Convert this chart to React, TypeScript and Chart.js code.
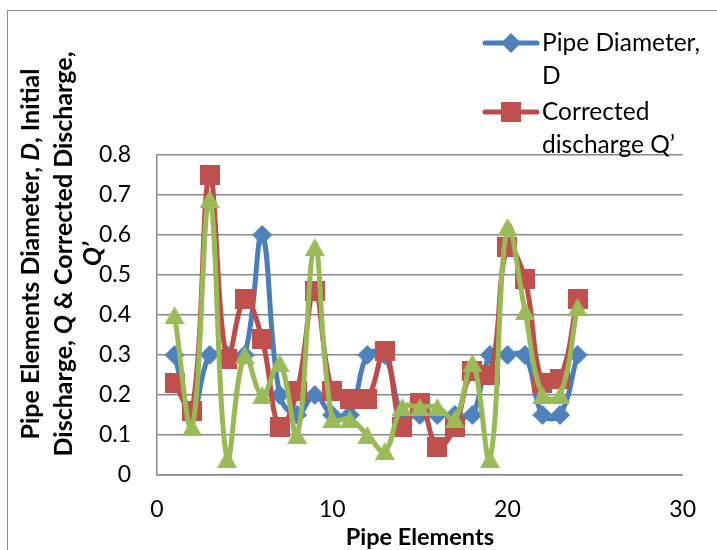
import React, { useEffect, useRef } from "react";
import { Chart, registerables } from "chart.js";

Chart.register(...registerables);

// Pipe element numbers along the x axis
const elements = [1, 2, 3, 4, 5, 6, 7, 8, 9, 10, 11, 12, 13, 14, 15, 16, 17, 18, 19, 20, 21, 22, 23, 24];

// Pipe diameter D per element
const pipeDiameter = [0.3, 0.15, 0.3, 0.3, 0.3, 0.6, 0.2, 0.15, 0.2, 0.15, 0.15, 0.3, 0.3, 0.15, 0.15, 0.15, 0.15, 0.15, 0.3, 0.3, 0.3, 0.15, 0.15, 0.3];

// Corrected discharge Q'
const correctedDischarge = [0.23, 0.16, 0.75, 0.29, 0.44, 0.34, 0.12, 0.21, 0.46, 0.21, 0.19, 0.19, 0.31, 0.12, 0.18, 0.07, 0.12, 0.26, 0.25, 0.57, 0.49, 0.23, 0.24, 0.44];

// Initial discharge Q
const initialDischarge = [0.4, 0.12, 0.69, 0.04, 0.3, 0.2, 0.28, 0.1, 0.57, 0.14, 0.14, 0.1, 0.06, 0.17, 0.17, 0.17, 0.14, 0.28, 0.04, 0.62, 0.41, 0.2, 0.2, 0.42];

const xTicks = [0, 10, 20, 30];
const yTicks = [0, 0.1, 0.2, 0.3, 0.4, 0.5, 0.6, 0.7, 0.8];

const seriesNames = ["Pipe Diameter, D", "Corrected discharge Q’", "Initial Discharge, Q"];
const legendLines = [
  ["Pipe Diameter,", "D"],
  ["Corrected", "discharge Q’"],
];

const yTitleLines = [
  [
    { text: "Pipe Elements Diameter, ", italic: false },
    { text: "D", italic: true },
    { text: ", Initial", italic: false },
  ],
  [
    { text: "Discharge, ", italic: false },
    { text: "Q", italic: true },
    { text: " & Corrected Discharge,", italic: false },
  ],
  [{ text: "Q’", italic: true }],
];

const xTitle = "Pipe Elements";

const BLUE_LINE = "#4A7EBB";
const BLUE_FILL = "#4F81BD";
const RED_LINE = "#BE4B48";
const RED_FILL = "#C0504D";
const GREEN_LINE = "#98B954";
const GREEN_FILL = "#9BBB59";
const GRID = "#888888";
const FONT = "Lato, 'Liberation Sans', sans-serif";

type MarkerKind = "diamond" | "square" | "triangle";

function makeMarker(kind: MarkerKind, color: string): HTMLCanvasElement {
  const c = document.createElement("canvas");
  const ctx = c.getContext("2d")!;
  if (kind === "diamond") {
    c.width = 20;
    c.height = 20;
    ctx.fillStyle = color;
    ctx.beginPath();
    ctx.moveTo(10, 0);
    ctx.lineTo(20, 10);
    ctx.lineTo(10, 20);
    ctx.lineTo(0, 10);
    ctx.closePath();
    ctx.fill();
  } else if (kind === "square") {
    c.width = 20;
    c.height = 20;
    ctx.fillStyle = color;
    ctx.fillRect(0, 0, 20, 20);
  } else {
    c.width = 20;
    c.height = 18;
    ctx.fillStyle = color;
    ctx.beginPath();
    ctx.moveTo(10, 0);
    ctx.lineTo(20, 18);
    ctx.lineTo(0, 18);
    ctx.closePath();
    ctx.fill();
  }
  return c;
}

export default function App() {
  const canvasRef = useRef<HTMLCanvasElement | null>(null);

  useEffect(() => {
    const canvas = canvasRef.current;
    if (!canvas) return;

    const blueMarker = makeMarker("diamond", BLUE_FILL);
    const redMarker = makeMarker("square", RED_FILL);
    const greenMarker = makeMarker("triangle", GREEN_FILL);

    const toPoints = (vals: number[]) => elements.map((x, i) => ({ x, y: vals[i] }));

    // Outer frame of the chart object
    const framePlugin = {
      id: "frame",
      beforeDraw(chart: any) {
        const ctx = chart.ctx;
        ctx.save();
        ctx.fillStyle = "#ffffff";
        ctx.fillRect(0, 0, chart.width, chart.height);
        ctx.strokeStyle = "#8c8c8c";
        ctx.lineWidth = 1;
        ctx.strokeRect(7.5, 10.5, chart.width + 20, chart.height + 20);
        ctx.restore();
      },
    };

    // Rotated y-axis title with italic symbols
    const yTitlePlugin = {
      id: "yTitle",
      afterDraw(chart: any) {
        const ctx = chart.ctx;
        const centersX = [31, 64, 93];
        const centerY = 254;
        ctx.save();
        ctx.fillStyle = "#000000";
        ctx.textBaseline = "middle";
        ctx.textAlign = "left";
        yTitleLines.forEach((segs, i) => {
          const fontFor = (it: boolean) => `${it ? "italic " : ""}bold 25px ${FONT}`;
          let total = 0;
          segs.forEach((s) => {
            ctx.font = fontFor(s.italic);
            total += ctx.measureText(s.text).width;
          });
          ctx.save();
          ctx.translate(centersX[i], centerY);
          ctx.rotate(-Math.PI / 2);
          let x = -total / 2;
          segs.forEach((s) => {
            ctx.font = fontFor(s.italic);
            ctx.fillText(s.text, x, 0);
            x += ctx.measureText(s.text).width;
          });
          ctx.restore();
        });
        ctx.restore();
      },
    };

    // Legend in the upper right corner
    const legendPlugin = {
      id: "sideLegend",
      afterDraw(chart: any) {
        const ctx = chart.ctx;
        const entries = [
          { color: BLUE_LINE, marker: blueMarker, lines: legendLines[0] },
          { color: RED_LINE, marker: redMarker, lines: legendLines[1] },
        ];
        ctx.save();
        ctx.font = `24.5px ${FONT}`;
        ctx.textBaseline = "middle";
        ctx.textAlign = "left";
        ctx.fillStyle = "#000000";
        entries.forEach((e, i) => {
          const y = 43 + i * 69;
          ctx.strokeStyle = e.color;
          ctx.lineWidth = 5;
          ctx.lineCap = "round";
          ctx.beginPath();
          ctx.moveTo(485, y);
          ctx.lineTo(537, y);
          ctx.stroke();
          ctx.drawImage(e.marker, 511 - e.marker.width / 2, y - e.marker.height / 2);
          e.lines.forEach((t, j) => {
            ctx.fillText(t, 542, y + j * 33);
          });
        });
        ctx.restore();
      },
    };

    const lineDataset = (label: string, vals: number[], line: string, fill: string, marker: HTMLCanvasElement, order: number) => ({
      label,
      data: toPoints(vals),
      borderColor: line,
      backgroundColor: fill,
      borderWidth: 5,
      tension: 0.4,
      pointStyle: marker,
      pointRadius: 10,
      pointHoverRadius: 10,
      order,
      clip: false,
    });

    const chart = new Chart(canvas, {
      type: "line",
      data: {
        datasets: [
          lineDataset(seriesNames[0], pipeDiameter, BLUE_LINE, BLUE_FILL, blueMarker, 3),
          lineDataset(seriesNames[1], correctedDischarge, RED_LINE, RED_FILL, redMarker, 2),
          lineDataset(seriesNames[2], initialDischarge, GREEN_LINE, GREEN_FILL, greenMarker, 1),
        ] as any,
      },
      options: {
        animation: false,
        responsive: false,
        maintainAspectRatio: false,
        events: [],
        layout: { padding: { top: 155, right: 28, left: 0, bottom: 0 } },
        plugins: {
          legend: { display: false },
          tooltip: { enabled: false },
          title: { display: false },
        },
        scales: {
          x: {
            type: "linear",
            min: 0,
            max: 30,
            afterBuildTicks: (s: any) => {
              s.ticks = xTicks.map((v) => ({ value: v }));
            },
            afterFit: (s: any) => {
              s.height = 75;
            },
            grid: { display: false, drawTicks: false },
            border: { display: true, color: GRID, width: 1.5 },
            ticks: {
              color: "#000000",
              font: { family: FONT, size: 23 },
              padding: 21,
              maxRotation: 0,
              callback: (v: any) => String(v),
            },
            title: {
              display: true,
              text: xTitle,
              color: "#000000",
              font: { family: FONT, size: 23.5, weight: "bold", lineHeight: 1.1 },
              padding: { top: 0, bottom: 0 },
            },
          },
          y: {
            type: "linear",
            min: 0,
            max: 0.8,
            afterBuildTicks: (s: any) => {
              s.ticks = yTicks.map((v) => ({ value: v }));
            },
            afterFit: (s: any) => {
              s.width = 157;
            },
            grid: { color: GRID, lineWidth: 1.5, drawTicks: false },
            border: { display: true, color: GRID, width: 1.5 },
            ticks: {
              color: "#000000",
              font: { family: FONT, size: 23 },
              padding: 26,
              callback: (v: any) => String(Math.round(Number(v) * 10) / 10),
            },
          },
        },
      } as any,
      plugins: [framePlugin, yTitlePlugin, legendPlugin],
    });

    return () => chart.destroy();
  }, []);

  return (
    <div style={{ position: "fixed", left: 0, top: 0, width: 717, height: 550, background: "#ffffff" }}>
      <canvas ref={canvasRef} width={717} height={550} style={{ display: "block", width: 717, height: 550 }} />
    </div>
  );
}
